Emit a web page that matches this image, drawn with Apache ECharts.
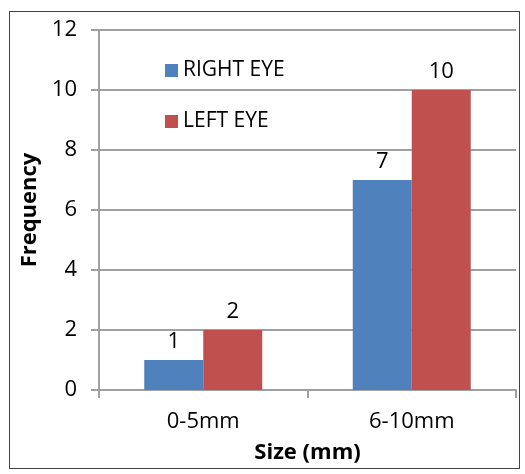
<!DOCTYPE html>
<html><head><meta charset="utf-8">
<script src="https://cdn.jsdelivr.net/npm/echarts@6/dist/echarts.min.js"></script>
<style>html,body{margin:0;padding:0;background:#fff}#c{width:525px;height:474px}
#frame{position:absolute;left:9px;top:11px;width:511px;height:458px;border:1.5px solid #444;box-sizing:border-box;pointer-events:none}</style>
</head><body><div id="c"></div><div id="frame"></div>
<script>
const categories = ['0-5mm', '6-10mm'];
const rightEye = [1, 7];
const leftEye = [2, 10];
const seriesNames = ['RIGHT EYE', 'LEFT EYE'];
const yTicks = {min: 0, max: 12, interval: 2};

const FONT = 'Open Sans';
const chart = echarts.init(document.getElementById('c'), null, {renderer: 'canvas'});
const labelStyle = {show: true, position: 'top', distance: 7, color: '#000', fontSize: 22, fontFamily: FONT};
chart.setOption({
  animation: false,
  grid: {left: 99, right: 9, top: 30, bottom: 84},
  legend: [
    {data: [seriesNames[0]], left: 160, top: 55, orient: 'vertical', itemWidth: 13, itemHeight: 13, icon: 'rect', itemGap: 8,
     textStyle: {fontSize: 21, fontFamily: FONT, color: '#000'}},
    {data: [seriesNames[1]], left: 160, top: 106, orient: 'vertical', itemWidth: 13, itemHeight: 13, icon: 'rect', itemGap: 8,
     textStyle: {fontSize: 21, fontFamily: FONT, color: '#000'}}
  ],
  xAxis: {
    type: 'category', data: categories,
    axisLine: {lineStyle: {color: '#a0a0a0', width: 2}},
    axisTick: {show: true, length: 8, lineStyle: {color: '#a0a0a0', width: 2}},
    axisLabel: {color: '#000', fontSize: 22, fontFamily: FONT, margin: 21},
    name: 'Size (mm)', nameLocation: 'middle', nameGap: 52,
    nameTextStyle: {color: '#000', fontSize: 22, fontWeight: 'bold', fontFamily: FONT}
  },
  yAxis: {
    type: 'value', min: yTicks.min, max: yTicks.max, interval: yTicks.interval,
    axisLine: {show: true, lineStyle: {color: '#a0a0a0', width: 2}},
    axisTick: {show: true, length: 8, lineStyle: {color: '#a0a0a0', width: 2}},
    splitLine: {show: true, lineStyle: {color: '#a0a0a0', width: 2}},
    axisLabel: {color: '#000', fontSize: 22, fontFamily: FONT, margin: 22},
    name: 'Frequency', nameLocation: 'middle', nameGap: 58, nameRotate: 90,
    nameTextStyle: {color: '#000', fontSize: 22, fontWeight: 'bold', fontFamily: FONT}
  },
  series: [
    {name: seriesNames[0], type: 'bar', data: rightEye, barWidth: 59, barGap: '0%',
     itemStyle: {color: '#4F81BD'}, label: labelStyle},
    {name: seriesNames[1], type: 'bar', data: leftEye, barWidth: 59, barGap: '0%',
     itemStyle: {color: '#C0504D'}, label: labelStyle}
  ]
});
</script></body></html>
